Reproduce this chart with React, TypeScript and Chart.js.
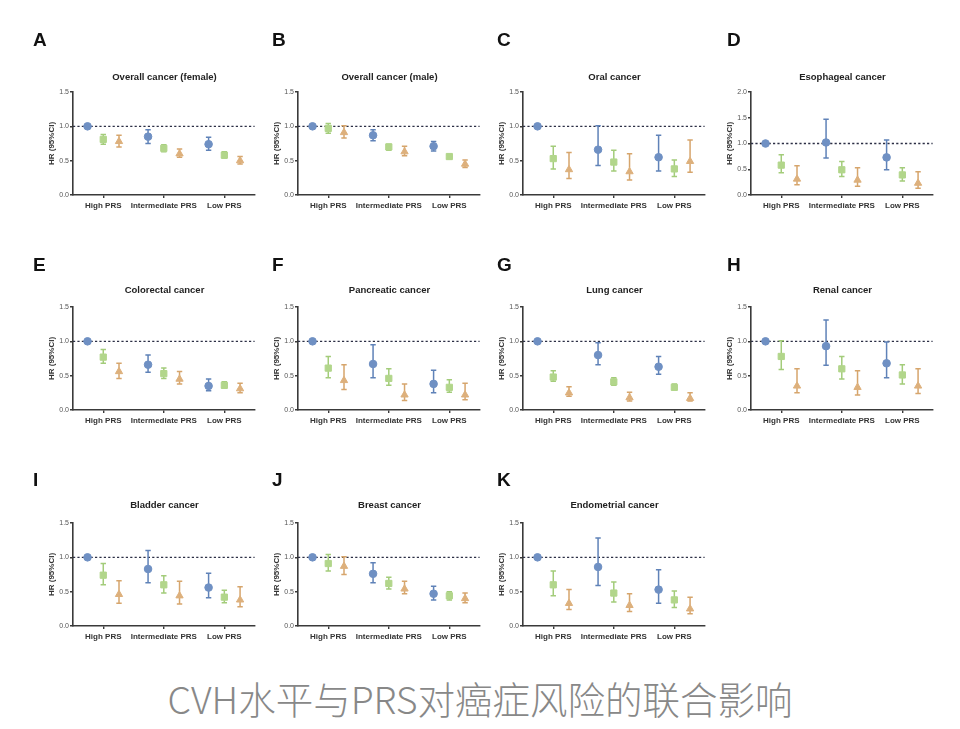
import React, { useEffect, useRef } from 'react';
import { Chart, registerables } from 'chart.js';

Chart.register(...registerables);

// ---------- data ----------
const CATEGORIES = ['High PRS', 'Intermediate PRS', 'Low PRS'];
const SERIES = ['Poor CVH', 'Intermediate CVH', 'Ideal CVH'];
const LETTERS = ['A', 'B', 'C', 'D', 'E', 'F', 'G', 'H', 'I', 'J', 'K'];
const TITLES = [
  'Overall cancer (female)',
  'Overall cancer (male)',
  'Oral cancer',
  'Esophageal cancer',
  'Colorectal cancer',
  'Pancreatic cancer',
  'Lung cancer',
  'Renal cancer',
  'Bladder cancer',
  'Breast cancer',
  'Endometrial cancer',
];
const Y_MAX = [1.5, 1.5, 1.5, 2.0, 1.5, 1.5, 1.5, 1.5, 1.5, 1.5, 1.5];
const CAPTION = 'CVH水平与PRS对癌症风险的联合影响';

// each array: [series][category]  (series: blue, green, orange)
const A_HR = [[1.0, 0.85, 0.74], [0.81, 0.68, 0.58], [0.78, 0.6, 0.5]];
const A_LO = [[1.0, 0.75, 0.65], [0.74, 0.63, 0.54], [0.7, 0.55, 0.45]];
const A_HI = [[1.0, 0.95, 0.84], [0.88, 0.73, 0.63], [0.87, 0.67, 0.56]];

const B_HR = [[1.0, 0.87, 0.71], [0.97, 0.7, 0.56], [0.91, 0.63, 0.45]];
const B_LO = [[1.0, 0.79, 0.64], [0.9, 0.65, 0.53], [0.83, 0.57, 0.4]];
const B_HI = [[1.0, 0.95, 0.78], [1.04, 0.74, 0.58], [1.01, 0.71, 0.51]];

const C_HR = [[1.0, 0.66, 0.55], [0.53, 0.48, 0.38], [0.37, 0.34, 0.49]];
const C_LO = [[1.0, 0.43, 0.35], [0.38, 0.35, 0.27], [0.24, 0.22, 0.33]];
const C_HI = [[1.0, 1.01, 0.87], [0.71, 0.65, 0.51], [0.62, 0.6, 0.8]];

const D_HR = [[1.0, 1.02, 0.73], [0.58, 0.49, 0.39], [0.31, 0.29, 0.23]];
const D_LO = [[1.0, 0.72, 0.49], [0.43, 0.36, 0.27], [0.2, 0.17, 0.13]];
const D_HI = [[1.0, 1.47, 1.07], [0.78, 0.65, 0.53], [0.57, 0.53, 0.45]];

const E_HR = [[1.0, 0.66, 0.35], [0.77, 0.53, 0.36], [0.56, 0.45, 0.31]];
const E_LO = [[1.0, 0.55, 0.28], [0.68, 0.46, 0.32], [0.46, 0.38, 0.25]];
const E_HI = [[1.0, 0.8, 0.45], [0.88, 0.61, 0.41], [0.68, 0.56, 0.39]];

const F_HR = [[1.0, 0.67, 0.38], [0.61, 0.46, 0.33], [0.43, 0.22, 0.22]];
const F_LO = [[1.0, 0.47, 0.25], [0.47, 0.36, 0.26], [0.3, 0.14, 0.15]];
const F_HI = [[1.0, 0.95, 0.58], [0.78, 0.6, 0.44], [0.66, 0.38, 0.39]];

const G_HR = [[1.0, 0.8, 0.63], [0.48, 0.41, 0.33], [0.25, 0.18, 0.17]];
const G_LO = [[1.0, 0.66, 0.52], [0.42, 0.36, 0.3], [0.2, 0.13, 0.13]];
const G_HI = [[1.0, 0.98, 0.78], [0.57, 0.47, 0.38], [0.34, 0.26, 0.25]];

const H_HR = [[1.0, 0.93, 0.68], [0.78, 0.6, 0.51], [0.35, 0.33, 0.35]];
const H_LO = [[1.0, 0.65, 0.47], [0.59, 0.45, 0.38], [0.25, 0.22, 0.24]];
const H_HI = [[1.0, 1.31, 0.99], [1.01, 0.78, 0.66], [0.6, 0.57, 0.6]];

const I_HR = [[1.0, 0.83, 0.56], [0.74, 0.6, 0.42], [0.46, 0.44, 0.38]];
const I_LO = [[1.0, 0.63, 0.41], [0.6, 0.48, 0.34], [0.33, 0.32, 0.28]];
const I_HI = [[1.0, 1.1, 0.77], [0.91, 0.73, 0.52], [0.66, 0.65, 0.57]];

const J_HR = [[1.0, 0.76, 0.47], [0.91, 0.62, 0.44], [0.87, 0.54, 0.4]];
const J_LO = [[1.0, 0.63, 0.38], [0.8, 0.54, 0.38], [0.75, 0.47, 0.34]];
const J_HI = [[1.0, 0.92, 0.58], [1.04, 0.71, 0.5], [1.01, 0.65, 0.48]];

const K_HR = [[1.0, 0.86, 0.53], [0.6, 0.48, 0.38], [0.33, 0.3, 0.25]];
const K_LO = [[1.0, 0.59, 0.33], [0.44, 0.35, 0.27], [0.24, 0.21, 0.18]];
const K_HI = [[1.0, 1.28, 0.82], [0.8, 0.64, 0.51], [0.53, 0.47, 0.42]];

const ALL_HR = [A_HR, B_HR, C_HR, D_HR, E_HR, F_HR, G_HR, H_HR, I_HR, J_HR, K_HR];
const ALL_LO = [A_LO, B_LO, C_LO, D_LO, E_LO, F_LO, G_LO, H_LO, I_LO, J_LO, K_LO];
const ALL_HI = [A_HI, B_HI, C_HI, D_HI, E_HI, F_HI, G_HI, H_HI, I_HI, J_HI, K_HI];

// ---------- style / layout ----------
const COLORS = ['#6f90c3', '#b2d68b', '#ddb07c'];
const BAR_COLORS = ['#5f82b8', '#a3cc7a', '#d6a56c'];
const POINT_STYLES = ['circle', 'rect', 'triangle'];
const POINT_RADIUS = [3.8, 4.4, 4.2];
const SERIES_OFFSET = [-0.26, 0, 0.26];

const COL_AXIS_X = [73, 298, 523, 751];
const ROW_PLOT_TOP = [92, 307, 523];
const ROW_TITLE_Y = [77, 290, 505];
const ROW_LETTER_Y = [40, 265, 480];
const COL_LETTER_X = [33, 272, 497, 727];
const PLOT_W = 183;
const PLOT_H = 103;
const PAD_TOP = 70;
const X_AXIS_H = 28;
const CANVAS_W = 240;
const CANVAS_H = PAD_TOP + PLOT_H + X_AXIS_H;
const LEFT_EXTRA = 53;
const FONT = '"Liberation Sans", Arial, Helvetica, sans-serif';

const errorBarPlugin = {
  id: 'errorBars',
  beforeDatasetsDraw(chart: any) {
    const { ctx, chartArea, scales } = chart;
    const xs = scales.x;
    const ys = scales.y;
    ctx.save();
    // reference line HR = 1
    const y1 = ys.getPixelForValue(1);
    ctx.strokeStyle = '#2c2f45';
    ctx.lineWidth = 1.3;
    ctx.setLineDash([2.2, 2.2]);
    ctx.beginPath();
    ctx.moveTo(chartArea.left, y1);
    ctx.lineTo(chartArea.right, y1);
    ctx.stroke();
    ctx.setLineDash([]);
    chart.data.datasets.forEach((ds: any) => {
      ctx.strokeStyle = ds.barColor;
      ctx.lineWidth = 1.5;
      ds.data.forEach((pt: any) => {
        if (pt.lo === pt.hi) return;
        const px = xs.getPixelForValue(pt.x);
        const pl = ys.getPixelForValue(pt.lo);
        const ph = ys.getPixelForValue(pt.hi);
        ctx.beginPath();
        ctx.moveTo(px, pl);
        ctx.lineTo(px, ph);
        ctx.moveTo(px - 2.7, pl);
        ctx.lineTo(px + 2.7, pl);
        ctx.moveTo(px - 2.7, ph);
        ctx.lineTo(px + 2.7, ph);
        ctx.stroke();
      });
    });
    ctx.restore();
  },
};

function buildChart(canvas: HTMLCanvasElement, idx: number) {
  const hr = ALL_HR[idx];
  const lo = ALL_LO[idx];
  const hi = ALL_HI[idx];
  const datasets = SERIES.map((name, s) => ({
    label: name,
    data: CATEGORIES.map((_, c) => ({
      x: c + SERIES_OFFSET[s],
      y: hr[s][c],
      lo: lo[s][c],
      hi: hi[s][c],
    })),
    pointStyle: POINT_STYLES[s],
    pointRadius: POINT_RADIUS[s],
    pointHoverRadius: POINT_RADIUS[s],
    backgroundColor: COLORS[s],
    borderColor: COLORS[s],
    borderWidth: 1,
    barColor: BAR_COLORS[s],
    showLine: false,
  }));
  return new Chart(canvas, {
    type: 'scatter',
    data: { datasets } as any,
    plugins: [errorBarPlugin],
    options: {
      animation: false,
      responsive: false,
      events: [],
      layout: {
        padding: {
          top: PAD_TOP,
          left: LEFT_EXTRA - 26,
          right: CANVAS_W - LEFT_EXTRA - PLOT_W,
          bottom: 0,
        },
      },
      plugins: {
        legend: { display: false },
        tooltip: { enabled: false },
        title: { display: false },
      },
      scales: {
        x: {
          type: 'linear',
          min: -0.5,
          max: 2.5,
          afterBuildTicks: (scale: any) => {
            scale.ticks = CATEGORIES.map((_, i) => ({ value: i }));
          },
          afterFit: (scale: any) => {
            scale.height = X_AXIS_H;
          },
          border: { display: true, color: '#3a3a3a', width: 1.6 },
          grid: {
            display: true,
            drawOnChartArea: false,
            drawTicks: true,
            tickLength: 3,
            color: '#3a3a3a',
            lineWidth: 1.4,
          },
          ticks: {
            autoSkip: false,
            maxRotation: 0,
            padding: 3,
            color: '#333',
            font: { family: FONT, size: 8, weight: 'bold' },
            callback: (v: any) => CATEGORIES[Math.round(Number(v))] ?? '',
          },
        },
        y: {
          type: 'linear',
          min: 0,
          max: Y_MAX[idx],
          afterFit: (scale: any) => {
            scale.width = 26;
          },
          border: { display: true, color: '#3a3a3a', width: 1.6 },
          grid: {
            display: true,
            drawOnChartArea: false,
            drawTicks: true,
            tickLength: 3,
            color: '#3a3a3a',
            lineWidth: 1.4,
          },
          ticks: {
            stepSize: 0.5,
            padding: 1,
            color: '#555',
            font: { family: FONT, size: 7 },
            callback: (v: any) => Number(v).toFixed(1),
          },
          title: {
            display: true,
            text: 'HR (95%CI)',
            color: '#333',
            padding: 0,
            font: { family: FONT, size: 8, weight: 'bold' },
          },
        },
      },
    } as any,
  });
}

function Panel({ idx }: { idx: number }) {
  const ref = useRef<HTMLCanvasElement | null>(null);
  useEffect(() => {
    if (!ref.current) return;
    const chart = buildChart(ref.current, idx);
    return () => chart.destroy();
  }, [idx]);
  const row = Math.floor(idx / 4);
  const col = idx % 4;
  const axisX = COL_AXIS_X[col];
  const plotTop = ROW_PLOT_TOP[row];
  return (
    <>
      <canvas
        ref={ref}
        width={CANVAS_W}
        height={CANVAS_H}
        style={{
          position: 'absolute',
          left: axisX - LEFT_EXTRA,
          top: plotTop - PAD_TOP,
          width: CANVAS_W,
          height: CANVAS_H,
        }}
      />
      <div
        style={{
          position: 'absolute',
          left: COL_LETTER_X[col],
          top: ROW_LETTER_Y[row] - 11,
          fontFamily: FONT,
          fontWeight: 'bold',
          fontSize: 19,
          lineHeight: '22px',
          color: '#111',
        }}
      >
        {LETTERS[idx]}
      </div>
      <div
        style={{
          position: 'absolute',
          left: axisX,
          width: PLOT_W,
          top: ROW_TITLE_Y[row] - 6,
          textAlign: 'center',
          fontFamily: FONT,
          fontWeight: 'bold',
          fontSize: 9.5,
          lineHeight: '12px',
          color: '#222',
          whiteSpace: 'nowrap',
        }}
      >
        {TITLES[idx]}
      </div>
    </>
  );
}

export default function App() {
  return (
    <div
      style={{
        position: 'absolute',
        left: 0,
        top: 0,
        width: 960,
        height: 729,
        background: '#ffffff',
        overflow: 'hidden',
      }}
    >
      {LETTERS.map((_, i) => (
        <Panel key={i} idx={i} />
      ))}
      <div
        style={{
          position: 'absolute',
          left: 0,
          width: 960,
          top: 675,
          textAlign: 'center',
          fontFamily: '"Noto Sans CJK SC", "Noto Sans", sans-serif',
          fontWeight: 300,
          fontSize: 37.5,
          lineHeight: '46px',
          color: '#888888',
        }}
      >
        {CAPTION}
      </div>
    </div>
  );
}
